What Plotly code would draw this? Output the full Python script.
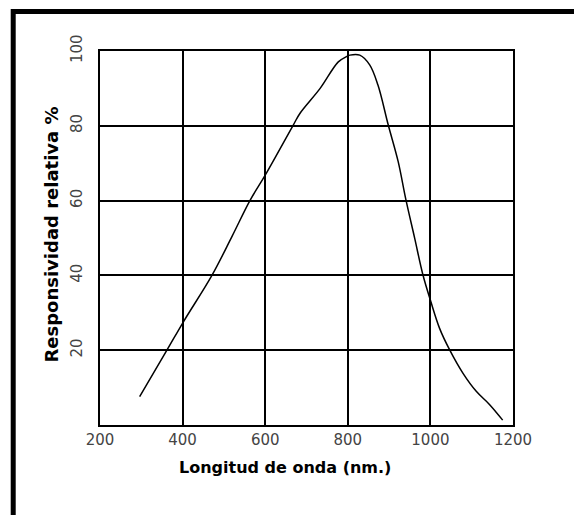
import plotly.graph_objects as go

wavelength_nm = [296, 362, 402, 471, 520, 563, 600, 668, 684, 733, 777, 797,
                 805, 829, 853, 873, 898, 922, 940, 962, 982, 1001, 1022, 1047, 1079, 1111, 1143, 1175]
responsivity = [7.6, 20.0, 27.6, 40.0, 50.5, 60.0, 66.8, 80.2, 83.3, 90.0, 97.1, 98.5,
                98.9, 98.9, 96.3, 90.9, 80.2, 70.4, 60.6, 49.9, 40.1, 33.0, 25.9, 20.0, 13.8, 9.0, 5.5, 1.3]

x_ticks = [200, 400, 600, 800, 1000, 1200]
y_ticks = [20, 40, 60, 80, 100]
x_title = "Longitud de onda (nm.)"
y_title = "Responsividad relativa %"

FONT = "DejaVu Sans, Arial, sans-serif"

fig = go.Figure()
fig.add_trace(go.Scatter(
    x=wavelength_nm, y=responsivity, mode="lines",
    line=dict(color="black", width=1.5, shape="spline", smoothing=1.0),
    showlegend=False, hoverinfo="x+y",
))

axis_common = dict(
    showgrid=True, gridcolor="black", gridwidth=2,
    showline=True, linecolor="black", linewidth=2, mirror=True,
    zeroline=False, ticks="",
    tickfont=dict(family=FONT, size=15, color="#444444"),
)

fig.update_xaxes(range=[200, 1200], tickvals=x_ticks, **axis_common)
fig.update_yaxes(range=[0, 100], tickvals=y_ticks, tickangle=-90, ticklabelstandoff=10, **axis_common)

# plot area in figure pixels (page has an 8px body offset)
L, T, W, H = 91.5, 43.0, 414.0, 374.0

fig.update_layout(
    width=582, height=515,
    margin=dict(l=L, r=582 - L - W, t=T, b=515 - T - H, pad=0),
    paper_bgcolor="white", plot_bgcolor="white",
    font=dict(family=FONT, color="black"),
    annotations=[
        dict(text="<b>" + x_title + "</b>", xref="paper", yref="paper",
             x=(285 - 99.5) / W, y=-(467 - 425) / H, xanchor="center", yanchor="middle",
             showarrow=False, font=dict(family=FONT, size=16, color="black")),
        dict(text="<b>" + y_title + "</b>", xref="paper", yref="paper",
             x=-(99.5 - 50) / W, y=(425 - 235) / H, xanchor="center", yanchor="middle",
             textangle=-90, showarrow=False, font=dict(family=FONT, size=18, color="black")),
    ],
    shapes=[
        dict(type="rect", xref="paper", yref="paper",
             x0=(12.5 - 99.5) / W, x1=1.4, y0=-0.4, y1=(425 - 11.5) / H,
             line=dict(color="black", width=5), fillcolor="rgba(0,0,0,0)", layer="above"),
    ],
)

fig.write_html("out.html")
